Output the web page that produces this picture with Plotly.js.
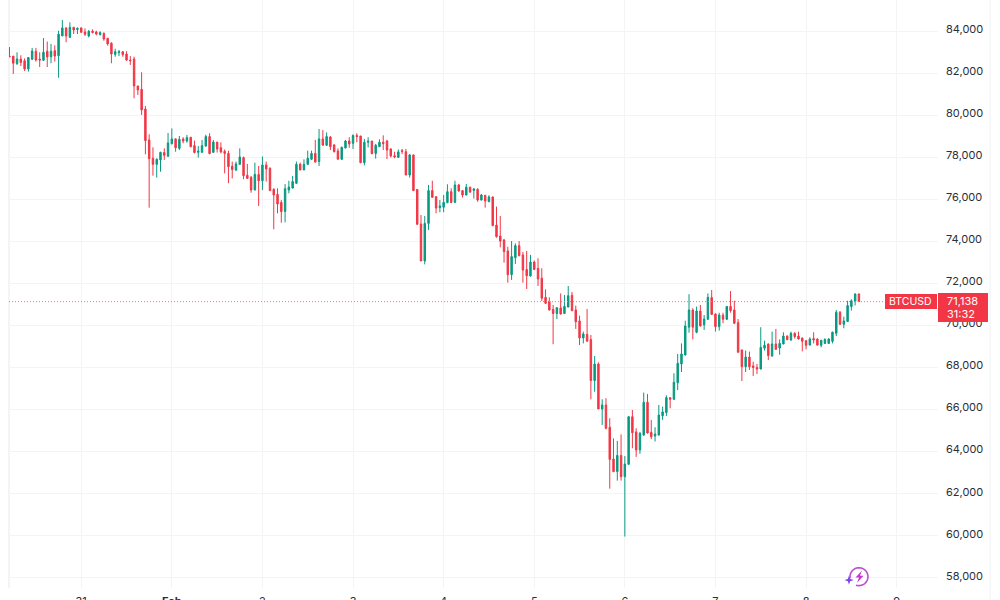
<!DOCTYPE html>
<html><head><meta charset="utf-8">
<script src="https://cdn.plot.ly/plotly-3.0.1.min.js"></script>
<style>html,body{margin:0;padding:0;background:#fff;overflow:hidden}#c{width:1000px;height:600px}</style>
</head><body><div id="c"></div>
<script>
const openP=[82820,82820,82460,82680,82600,82210,82670,83050,82680,82620,83050,82790,83080,82840,83780,84160,83710,84190,84080,84160,83970,83780,84010,83970,83840,83900,83670,83430,82900,82980,83030,82920,82630,82680,81400,81240,80300,78830,
77960,77670,77880,78230,78050,78650,78880,78430,78880,78780,78960,78560,78240,78240,78540,78990,78240,78730,78460,78290,78190,77580,77400,77670,77990,77150,77050,76450,77190,76890,77640,77480,76480,76240,75860,75430,76450,76540,76770,77670,77400,77670,77910,78190,
77800,78880,78580,78970,78590,78310,77910,78450,78780,78670,79040,79020,77750,78720,78780,78190,78510,78720,78780,78400,78080,78000,78320,78270,77160,78120,76470,74830,73070,74860,76420,76130,75610,75630,75850,76370,75860,76690,76420,76210,76580,76430,76480,75970,76200,75890,
76120,74780,74260,74070,73550,72420,73230,73800,73360,72670,72360,73020,72720,72250,71340,71150,70770,70570,70840,70570,70880,71440,70740,70220,69410,69580,69330,
67380,68170,66030,66220,65160,63650,63050,63820,62810,63400,65660,64940,64080,64790,66350,64920,64740,64790,65710,65860,66570,66490,
67280,68170,68600,69920,70740,69680,70690,70030,70300,71330,70550,69950,70490,70300,70910,70740,70140,68840,68040,68500,68080,68000,67930,68920,69120,68550,69120,68930,69120,69500,69310,69630,69500,69410,69280,69070,69380,69360,69060,69150,69150,69250,69630,70630,70060,70190,70900,71150,71500];
const highP=[83250,82820,83000,82860,82710,82780,83210,83210,83000,83680,83510,83400,83330,84030,84540,84190,84430,84190,84190,84190,84140,84060,84090,84030,84000,83950,83680,83480,83170,83110,83050,83050,82820,82790,81400,82050,80450,79100,
78480,77960,78270,78430,79160,79380,78910,79020,78960,79070,78960,78800,78540,78830,79080,79150,78830,78730,78720,78380,78320,77800,77800,78430,78040,77690,77120,77750,77590,78040,77800,77530,76530,76530,75970,76730,76890,77120,77800,77750,77910,78320,78320,78830,
79350,79300,79190,79020,78640,78430,78510,78830,78960,79100,79150,79020,78880,78960,78780,78640,78860,79050,78830,78430,78270,78380,78400,78400,78160,78120,76500,75260,75210,76690,76890,76160,75970,76210,76720,76530,76890,76740,76450,76740,76610,76530,76530,76260,76200,76200,
76130,75660,75210,74120,73750,74020,73910,74020,73500,73550,73360,73090,73200,72720,71720,71340,70980,70870,71530,71450,71880,71600,70950,70470,69710,70790,69550,
68550,68250,66490,66540,65590,64630,64510,64820,63790,65700,65980,65110,64940,66810,66740,65510,65160,66220,66140,66680,66570,67730,
68650,69150,70230,71490,70820,70900,70980,70500,71530,71690,70580,70610,70610,70930,71640,71180,70310,68840,68810,68760,68280,68170,69920,69280,69150,69710,69840,69340,69680,69530,69710,69680,69710,69410,69310,69440,69680,69390,69310,69390,69390,69710,70740,70690,70420,71180,71250,71530,71530];
const lowP=[82790,81970,82400,82350,82110,82080,82630,82560,82300,82590,82300,82480,82560,81790,83780,83480,83710,83870,83870,83950,83780,83710,83900,83810,83810,83550,83320,82480,82790,82820,82790,82600,82400,80810,80970,80020,78150,75610,
77130,77040,77320,77880,78040,78620,78270,78350,78670,78700,78480,78190,77990,78230,78510,78150,78230,78230,78190,77240,76770,77000,77350,77640,76960,77000,76320,76430,75690,76450,76850,76400,74580,75340,74890,74910,76290,76530,76730,77400,77400,77640,77880,77750,
77590,78570,78540,78350,78240,77910,77880,78430,78460,78400,78720,77720,77620,78480,78150,77940,78510,78350,77920,78000,77960,77970,78160,77160,77040,76420,74780,73070,72910,74550,76100,75340,75390,75390,75820,75820,75850,76370,76090,76200,76310,76040,75890,75960,75610,75880,
74750,74180,73720,72990,72040,72170,72930,73290,72040,71740,72330,72640,71880,71170,71030,70710,69110,70310,70520,70550,70870,70680,69840,69070,69150,69220,66490,
66850,66030,65270,65060,62240,63020,62620,62620,59960,63360,64160,63750,63900,64760,64860,64590,64480,64760,65510,65700,66060,66460,
66930,67790,68580,69660,69340,69630,69950,69790,70260,70500,69710,69760,70110,70260,70610,70070,68710,67360,67790,67890,67600,67690,67920,68810,68360,68520,68840,68610,69110,69300,69280,69380,69340,68770,68870,69060,69150,69040,68960,69120,69120,69150,69500,70030,69870,70170,70710,70960,71120];
const closeP=[82790,82480,82680,82520,82210,82750,83060,82630,82630,83000,82780,83050,82820,83860,84160,83780,84190,84060,84140,83950,83860,84000,83940,83870,83940,83630,83400,82920,83030,83030,82890,82630,82600,81400,81210,80260,78800,77940,
77670,77910,78240,78100,78690,78880,78460,78860,78780,78940,78510,78230,78300,78560,78990,78180,78730,78400,78260,78190,77560,77420,77690,78020,77130,77000,76450,77190,76890,77640,77450,76420,76210,75780,75420,76510,76590,76850,77670,77400,77670,77960,78190,77780,
78880,78580,78990,78510,78270,77910,78480,78780,78640,79040,78990,77750,78720,78770,78180,78580,78720,78650,78350,78070,78020,78260,78290,77160,78120,76420,74820,73070,74860,76420,76100,75590,75690,75860,76370,75860,76690,76400,76210,76580,76350,76500,75970,76210,75930,76120,
74750,74230,74020,73520,72420,73280,73800,73330,72640,72370,73020,72670,72210,71300,71060,70740,70570,70850,70550,70910,71420,70710,70180,69410,69600,69260,67380,
68170,66030,66220,65110,63630,63050,63820,62810,63410,65660,64900,64080,64870,66350,64890,64710,64840,65740,65890,66570,66490,67300,
68200,68650,69980,70740,69920,70690,69980,70310,71340,70530,69950,70500,70300,70910,70710,70110,68730,68040,68500,68040,68000,67930,68960,69060,68570,69120,68870,69150,69500,69330,69630,69470,69360,69250,69060,69360,69310,69070,69300,69340,69360,69680,70630,70060,70220,70950,71180,71500,71138];

const startTime=Date.UTC(2026,0,30,5);
const times=openP.map((_,i)=>new Date(startTime+i*3600000).toISOString());
const dayTicks=["2026-01-31","2026-02-01","2026-02-02","2026-02-03","2026-02-04","2026-02-05","2026-02-06","2026-02-07","2026-02-08","2026-02-09"];
const dayLabels=["31","<b>Feb</b>","2","3","4","5","6","7","8","9"];
const priceTicks=[58000,60000,62000,64000,66000,68000,70000,72000,74000,76000,78000,80000,82000,84000];
const priceLabels=priceTicks.map(v=>v.toLocaleString("en-US"));
const lastPrice=71138, symbol="BTCUSD", countdown="31:32";

const UP="#089981", DOWN="#f23645", GRID="#f3f4f6";
const px=x=>x/1000, py=y=>1-y/600;
const toPath=(pts)=>pts.map((p,i)=>(i?"L":"M")+px(p[0])+","+py(p[1])).join(" ")+" Z";

// TradingView-like logo mark
const arc=[];for(let a=-190;a<=115;a+=15){arc.push([859+9*Math.cos(a*Math.PI/180),576.7+9*Math.sin(a*Math.PI/180)]);}
const arcPath=arc.map((p,i)=>(i?"L":"M")+px(p[0])+","+py(p[1])).join(" ");

const shapes=[
 {type:"line",xref:"paper",yref:"paper",x0:px(9),x1:px(9),y0:py(0),y1:py(588),line:{color:"#eef0f3",width:1.5},layer:"below"},
 {type:"line",xref:"paper",yref:"paper",x0:px(990),x1:px(990),y0:py(0),y1:py(600),line:{color:"#f0f1f3",width:1},layer:"below"},
 {type:"line",xref:"paper",yref:"y",x0:px(9),x1:px(885),y0:lastPrice,y1:lastPrice,line:{color:"#f4737e",width:1,dash:"1px,2px"},layer:"above"},
 {type:"rect",xref:"paper",yref:"paper",x0:px(885),x1:px(937),y0:py(294),y1:py(309),fillcolor:DOWN,line:{width:0},layer:"above"},
 {type:"rect",xref:"paper",yref:"paper",x0:px(938),x1:px(988),y0:py(293),y1:py(322),fillcolor:DOWN,line:{width:0},layer:"above"},
 {type:"path",xref:"paper",yref:"paper",path:arcPath,line:{color:"#bb4fd3",width:1.6},layer:"above"},
 {type:"path",xref:"paper",yref:"paper",path:toPath([[862,570.5],[855.5,577.5],[859,577.5],[857,583],[863.5,575.7],[860,575.7]]),fillcolor:"#c23bd0",line:{width:0},layer:"above"},
 {type:"path",xref:"paper",yref:"paper",path:toPath([[849,575.5],[850.2,579],[853.7,580],[850.2,581.2],[849,584.5],[847.8,581.2],[844.5,580],[847.8,579]]),fillcolor:"#7a45f0",line:{width:0},layer:"above"}
];
const annotations=[
 {xref:"paper",yref:"paper",x:px(910.5),y:py(301.5),text:symbol,showarrow:false,xanchor:"center",yanchor:"middle",font:{family:"Inter",size:10.5,color:"#ffffff"}},
 {xref:"paper",yref:"paper",x:px(945),y:py(300.5),text:lastPrice.toLocaleString("en-US"),showarrow:false,xanchor:"left",yanchor:"middle",font:{family:"Inter",size:11,color:"#ffffff"}},
 {xref:"paper",yref:"paper",x:px(945),y:py(313.5),text:countdown,showarrow:false,xanchor:"left",yanchor:"middle",font:{family:"Inter",size:11,color:"#ffffff"}}
];

Plotly.newPlot("c",[{
  type:"candlestick",x:times,open:openP,high:highP,low:lowP,close:closeP,
  increasing:{line:{color:UP,width:1},fillcolor:UP},
  decreasing:{line:{color:DOWN,width:1},fillcolor:DOWN},
  whiskerwidth:0,hoverinfo:"skip"
}],{
  width:1000,height:600,margin:{l:0,r:0,t:0,b:0,pad:0},paper_bgcolor:"#fff",plot_bgcolor:"#fff",
  showlegend:false,boxgap:0.45,shapes,annotations,
  xaxis:{type:"date",domain:[px(9),px(938)],
    range:[new Date(startTime-0.13*3600000).toISOString(),new Date(startTime+245.95*3600000).toISOString()],
    rangeslider:{visible:false},tickmode:"array",tickvals:dayTicks,ticktext:dayLabels,
    showgrid:true,gridcolor:GRID,gridwidth:1,zeroline:false,showline:false,ticks:"",
    ticklabelstandoff:5,tickfont:{family:"Inter",size:11,color:"#2a2e39"},fixedrange:true,automargin:false},
  yaxis:{side:"right",domain:[py(588),1],range:[57512,85489],autorange:false,
    tickmode:"array",tickvals:priceTicks,ticktext:priceLabels,
    showgrid:true,gridcolor:GRID,gridwidth:1,zeroline:false,showline:false,ticks:"",
    ticklabelstandoff:7,ticklabelshift:-2,tickfont:{family:"Inter",size:11,color:"#2a2e39"},fixedrange:true,automargin:false}
},{displayModeBar:false,staticPlot:true});
</script></body></html>
